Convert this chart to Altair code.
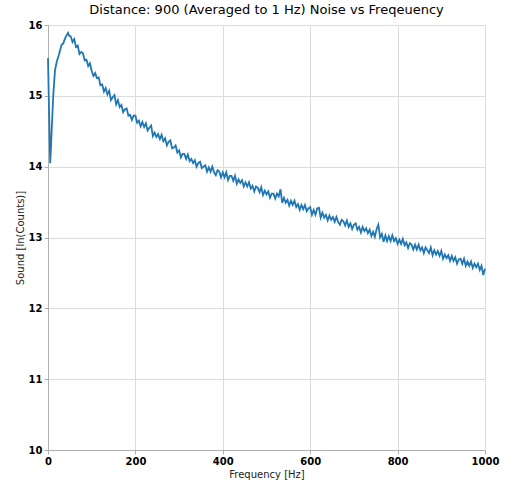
import altair as alt
import pandas as pd

freq_early = [0, 2, 5, 7, 9, 12, 16, 20, 25, 31, 35, 39, 43, 46, 48]
sound_early = [15.53, 14.9, 14.05, 14.3, 14.6, 15.0, 15.36, 15.48, 15.58, 15.72, 15.74, 15.81, 15.86, 15.89, 15.85]

freq_main = list(range(52, 1001, 4))
sound_main = [
    15.84, 15.76, 15.80, 15.69, 15.71, 15.59, 15.62, 15.60, 15.50, 15.51,  # 52-88
    15.42, 15.46, 15.35, 15.28, 15.32, 15.25, 15.26, 15.15, 15.16, 15.06,  # 92-128
    15.11, 15.02, 15.07, 14.94, 14.98, 15.01, 14.88, 14.94, 14.84, 14.87,  # 132-168
    14.77, 14.81, 14.82, 14.72, 14.73, 14.66, 14.72, 14.72, 14.62, 14.65,  # 172-208
    14.57, 14.63, 14.56, 14.61, 14.51, 14.55, 14.58, 14.43, 14.48, 14.42,  # 212-248
    14.46, 14.39, 14.45, 14.36, 14.40, 14.30, 14.35, 14.37, 14.26, 14.27,  # 252-288
    14.30, 14.20, 14.23, 14.13, 14.18, 14.18, 14.11, 14.17, 14.08, 14.11,  # 292-328
    14.05, 14.09, 14.00, 14.05, 14.07, 13.98, 14.00, 14.02, 13.93, 13.99,  # 332-368
    13.93, 14.00, 13.92, 13.88, 13.95, 13.93, 13.85, 13.92, 13.85, 13.92,  # 372-408
    13.81, 13.87, 13.87, 13.80, 13.87, 13.76, 13.82, 13.77, 13.81, 13.72,  # 412-448
    13.78, 13.72, 13.78, 13.69, 13.73, 13.65, 13.72, 13.70, 13.64, 13.71,  # 452-488
    13.60, 13.66, 13.61, 13.65, 13.56, 13.62, 13.62, 13.55, 13.62, 13.58,  # 492-528
    13.68, 13.49, 13.56, 13.49, 13.53, 13.45, 13.52, 13.46, 13.52, 13.43,  # 532-568
    13.47, 13.39, 13.46, 13.40, 13.46, 13.37, 13.41, 13.43, 13.32, 13.39,  # 572-608
    13.32, 13.41, 13.42, 13.28, 13.35, 13.28, 13.32, 13.24, 13.31, 13.25,  # 612-648
    13.29, 13.22, 13.29, 13.22, 13.18, 13.25, 13.23, 13.17, 13.24, 13.15,  # 652-688
    13.20, 13.12, 13.18, 13.20, 13.11, 13.15, 13.07, 13.15, 13.09, 13.13,  # 692-728
    13.06, 13.11, 13.02, 13.08, 13.01, 13.12, 13.18, 13.00, 13.05, 12.94,  # 732-768
    13.03, 12.95, 13.02, 12.95, 13.03, 12.95, 12.99, 12.91, 12.97, 12.91,  # 772-808
    12.98, 12.89, 12.93, 12.85, 12.92, 12.90, 12.83, 12.90, 12.83, 12.90,  # 812-848
    12.82, 12.86, 12.78, 12.86, 12.82, 12.78, 12.86, 12.75, 12.82, 12.76,  # 852-888
    12.81, 12.74, 12.81, 12.70, 12.76, 12.71, 12.75, 12.67, 12.74, 12.67,  # 892-928
    12.72, 12.63, 12.69, 12.70, 12.63, 12.70, 12.60, 12.66, 12.60, 12.66,  # 932-968
    12.57, 12.63, 12.58, 12.63, 12.54, 12.60, 12.47, 12.56,                # 972-1000
]

df = pd.DataFrame({
    "freq": freq_early + freq_main,
    "sound": sound_early + sound_main,
})

FONT = "DejaVu Sans"

chart = alt.Chart(df).mark_line(color="#1f77b4", strokeWidth=1.8).encode(
    x=alt.X("freq:Q", title="Frequency [Hz]",
            scale=alt.Scale(domain=[0, 1000], nice=False, zero=False),
            axis=alt.Axis(values=[0, 200, 400, 600, 800, 1000], format="d",
                          labelFlush=False)),
    y=alt.Y("sound:Q", title="Sound [ln(Counts)]",
            scale=alt.Scale(domain=[10, 16], nice=False, zero=False),
            axis=alt.Axis(values=[10, 11, 12, 13, 14, 15, 16], format="d",
                          labelFlush=False)),
).properties(
    width=437,
    height=425,
    title=alt.TitleParams("Distance: 900 (Averaged to 1 Hz) Noise vs Freqeuency",
                          font=FONT, fontSize=13, fontWeight="normal",
                          color="#000000", offset=3),
    autosize=alt.AutoSizeParams(type="none"),
    padding={"left": 48, "top": 25, "right": 31, "bottom": 35},
).configure_view(
    stroke="#b0b0b0", strokeWidth=1
).configure_axis(
    labelFont=FONT, labelFontSize=10, labelFontWeight="bold", labelColor="#000000",
    titleFont=FONT, titleFontSize=10, titleFontWeight="normal", titleColor="#222222",
    gridColor="#dcdcdc", gridWidth=1,
    domainColor="#b0b0b0", tickColor="#b0b0b0", tickSize=4,
    labelPadding=2,
).configure_axisX(
    titlePadding=3,
).configure_axisY(
    titlePadding=3,
)

chart.save("out.html", embed_options={"renderer": "svg", "actions": False})
